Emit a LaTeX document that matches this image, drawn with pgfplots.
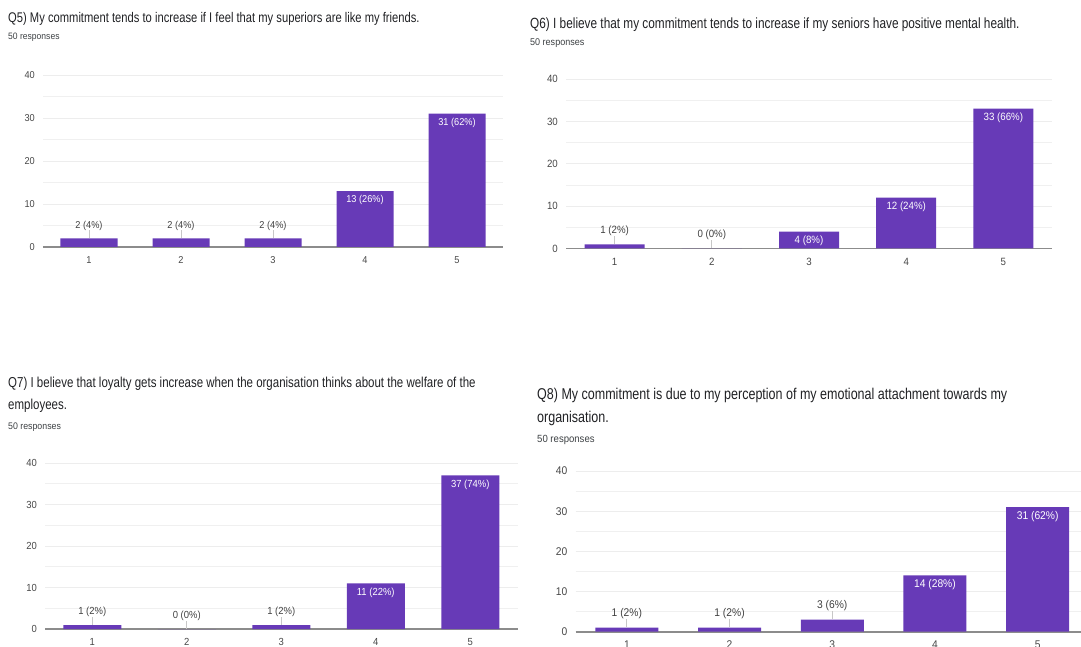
\documentclass[border=0pt]{standalone}
\usepackage{fontspec}
\setmainfont{Liberation Sans}[FakeStretch=0.9]
\newfontfamily\tfont{Liberation Sans}[FakeStretch=0.8]
\newfontfamily\lfont{Liberation Sans}[FakeStretch=0.92]
\usepackage{pgfplots}
\pgfplotsset{compat=1.18}
\definecolor{gfpurple}{HTML}{673AB7}
\definecolor{titlec}{HTML}{202124}
\definecolor{subc}{HTML}{3C4043}
\def\labfont{\lfont\fontsize{10}{11.5}\selectfont}
\pgfplotsset{
  gf/.style={
    scale only axis,
    xmin=0.5, xmax=5.5, ymin=0, ymax=40,
    xtick={1,2,3,4,5}, ytick={0,10,20,30,40}, minor ytick={5,15,25,35},
    ymajorgrids, yminorgrids,
    major grid style={draw=black!7, line width=0.8pt},
    minor grid style={draw=black!6, line width=0.8pt},
    axis line style={draw=none},
    tick style={draw=none},
    major tick length=0pt, minor tick length=0pt,
    extra y ticks={0}, extra y tick labels={},
    extra y tick style={grid=major, major grid style={draw=black!45, line width=1.6pt}},
    ticklabel style={font=\labfont, text=black!72},
    y tick label style={anchor=east, inner sep=0pt, xshift=-8pt},
    x tick label style={anchor=center, inner sep=0pt, yshift=-13pt},
    /pgf/number format/assume math mode=true,
    clip=false,
  },
  outlab/.style={draw=none, nodes near coords={\pgfplotspointmeta\\[-1.5pt]{\color{black!22}\rule{0.8pt}{8pt}}},
    point meta=explicit symbolic,
    every node near coord/.style={anchor=south, inner sep=0pt, align=center, font=\labfont, text=black!75}},
  inlab/.style={draw=none, nodes near coords, point meta=explicit symbolic,
    every node near coord/.style={anchor=north, yshift=-4pt, inner sep=0pt, font=\labfont, text=white}},
  gfbar/.style={ybar, bar shift=0pt, fill=gfpurple, draw=none},
}
\begin{document}
\begin{tikzpicture}[x=1pt,y=1pt]

% ---------- Q5 ----------
\def\labfont{\lfont\fontsize{10}{11.5}\selectfont}
\node[anchor=west, inner sep=0pt, font=\tfont\fontsize{14}{16}\selectfont, text=titlec] at (8pt,627.5pt) {Q5) My commitment tends to increase if I feel that my superiors are like my friends.};
\node[anchor=west, inner sep=0pt, font=\lfont\fontsize{9.3}{11}\selectfont, text=subc] at (8pt,608.5pt) {50 responses};
\begin{axis}[gf, at={(43pt,399pt)}, anchor=south west, width=460pt, height=172pt]
\addplot[gfbar, bar width=57pt] coordinates {(1,2) (2,2) (3,2) (4,13) (5,31)};
\addplot[outlab] coordinates {(1,2) [2 (4\%)] (2,2) [2 (4\%)] (3,2) [2 (4\%)]};
\addplot[inlab] coordinates {(4,13) [13 (26\%)] (5,31) [31 (62\%)]};
\end{axis}

% ---------- Q6 ----------
\def\labfont{\lfont\fontsize{10.55}{12}\selectfont}
\node[anchor=west, inner sep=0pt, font=\tfont\fontsize{14.77}{17}\selectfont, text=titlec] at (530pt,621.5pt) {Q6) I believe that my commitment tends to increase if my seniors have positive mental health.};
\node[anchor=west, inner sep=0pt, font=\lfont\fontsize{9.8}{11}\selectfont, text=subc] at (530pt,602.5pt) {50 responses};
\begin{axis}[gf, at={(566pt,397.5pt)}, anchor=south west, width=486pt, height=169.5pt]
\addplot[gfbar, bar width=60pt] coordinates {(1,1) (2,0) (3,4) (4,12) (5,33)};
\addplot[outlab] coordinates {(1,1) [1 (2\%)] (2,0) [0 (0\%)]};
\addplot[inlab] coordinates {(3,4) [4 (8\%)] (4,12) [12 (24\%)] (5,33) [33 (66\%)]};
\end{axis}

% ---------- Q7 ----------
\def\labfont{\lfont\fontsize{10.27}{11.8}\selectfont}
\node[anchor=west, inner sep=0pt, font=\tfont\fontsize{14.38}{16.5}\selectfont, text=titlec] at (8pt,262pt) {Q7) I believe that loyalty gets increase when the organisation thinks about the welfare of the};
\node[anchor=west, inner sep=0pt, font=\tfont\fontsize{14.38}{16.5}\selectfont, text=titlec] at (8pt,240pt) {employees.};
\node[anchor=west, inner sep=0pt, font=\lfont\fontsize{9.55}{11}\selectfont, text=subc] at (8pt,219pt) {50 responses};
\begin{axis}[gf, at={(45pt,16.8pt)}, anchor=south west, width=472.5pt, height=166.2pt]
\addplot[gfbar, bar width=58pt] coordinates {(1,1) (2,0) (3,1) (4,11) (5,37)};
\addplot[outlab] coordinates {(1,1) [1 (2\%)] (2,0) [0 (0\%)] (3,1) [1 (2\%)]};
\addplot[inlab] coordinates {(4,11) [11 (22\%)] (5,37) [37 (74\%)]};
\end{axis}

% ---------- Q8 ----------
\def\labfont{\lfont\fontsize{11.17}{12.8}\selectfont}
\node[anchor=west, inner sep=0pt, font=\tfont\fontsize{15.64}{18}\selectfont, text=titlec] at (537pt,250.5pt) {Q8) My commitment is due to my perception of my emotional attachment towards my};
\node[anchor=west, inner sep=0pt, font=\tfont\fontsize{15.64}{18}\selectfont, text=titlec] at (537pt,227.5pt) {organisation.};
\node[anchor=west, inner sep=0pt, font=\lfont\fontsize{10.4}{12}\selectfont, text=subc] at (537pt,206.5pt) {50 responses};
\begin{axis}[gf, at={(575.5pt,14.3pt)}, anchor=south west, width=513.5pt, height=160.7pt]
\addplot[gfbar, bar width=63pt] coordinates {(1,1) (2,1) (3,3) (4,14) (5,31)};
\addplot[outlab] coordinates {(1,1) [1 (2\%)] (2,1) [1 (2\%)] (3,3) [3 (6\%)]};
\addplot[inlab] coordinates {(4,14) [14 (28\%)] (5,31) [31 (62\%)]};
\end{axis}

\pgfresetboundingbox
\path[use as bounding box] (0pt,0pt) rectangle (1081pt,646pt);
\end{tikzpicture}
\end{document}
